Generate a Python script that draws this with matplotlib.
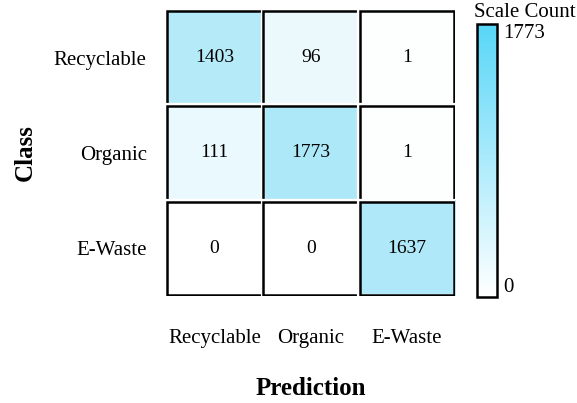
import numpy as np
import matplotlib
matplotlib.use("Agg")
import matplotlib.pyplot as plt
from matplotlib.colors import LinearSegmentedColormap, PowerNorm, Normalize
from matplotlib.patches import Rectangle

plt.rcParams['font.family'] = ['Liberation Serif', 'DejaVu Serif']

classes = ["Recyclable", "Organic", "E-Waste"]
counts = np.array([[1403, 96, 1],
                   [111, 1773, 1],
                   [0, 0, 1637]])

cmap_bar = LinearSegmentedColormap.from_list("wb", ["#ffffff", "#58d6f7"])
cmap_cell = LinearSegmentedColormap.from_list("wc", ["#ffffff", "#acE8f8"])
vmax = counts.max()

fig = plt.figure(figsize=(5.77, 4.03), dpi=100)
ax = fig.add_axes([0.288, 0.266, 0.501, 0.709])
cax = fig.add_axes([0.826, 0.263, 0.036, 0.677])

ax.imshow(counts, cmap=cmap_cell, norm=PowerNorm(0.5, vmin=0, vmax=vmax),
          aspect="auto")

# white gaps + black borders around each cell
n = len(classes)
for i in range(n):
    for j in range(n):
        ax.add_patch(Rectangle((j - 0.5, i - 0.5), 1, 1, fill=False,
                               edgecolor="white", linewidth=3))
        ax.add_patch(Rectangle((j - 0.49, i - 0.49), 0.98, 0.98, fill=False,
                               edgecolor="black", linewidth=1.8))
        ax.text(j, i, str(counts[i, j]), ha="center", va="center", fontsize=14)

for s in ax.spines.values():
    s.set_visible(False)
ax.set_xticks(range(n))
ax.set_yticks(range(n))
ax.set_xticklabels(classes, fontsize=15)
ax.set_yticklabels(classes, fontsize=15)
ax.tick_params(length=0)
ax.tick_params(axis="x", pad=24)
ax.tick_params(axis="y", pad=14)
ax.set_xlabel("Prediction", fontsize=18, fontweight="bold", labelpad=21)
ax.set_ylabel("Class", fontsize=18, fontweight="bold", labelpad=12)

sm = plt.cm.ScalarMappable(cmap=cmap_bar, norm=Normalize(0, vmax))
cb = fig.colorbar(sm, cax=cax)
cb.set_ticks([0, vmax])
cb.ax.tick_params(length=0, labelsize=15, pad=4)
labels = cb.ax.get_yticklabels()
labels[0].set_verticalalignment("bottom")
labels[-1].set_verticalalignment("top")
cb.outline.set_linewidth(1.8)
fig.text(0.822, 0.945, "Scale Count", fontsize=15, ha="left", va="bottom")

fig.savefig("out.png", dpi=100)
